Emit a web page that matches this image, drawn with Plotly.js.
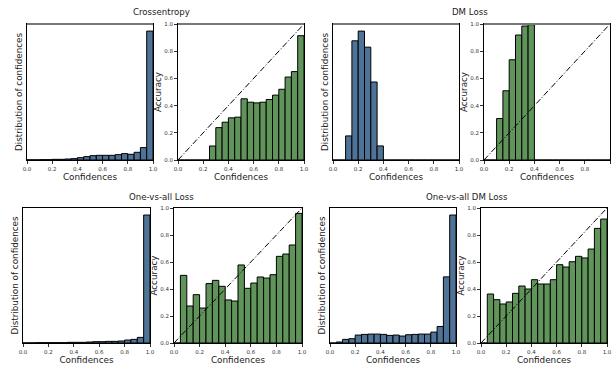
<!DOCTYPE html>
<html><head><meta charset="utf-8">
<script src="https://cdn.plot.ly/plotly-3.0.1.min.js"></script>
<style>html,body{margin:0;padding:0;background:#fff}#chart{width:613px;height:366px}</style>
</head><body><div id="chart"></div>
<script>
// ---- data ----
const binCenters = [0.025,0.075,0.125,0.175,0.225,0.275,0.325,0.375,0.425,0.475,
                    0.525,0.575,0.625,0.675,0.725,0.775,0.825,0.875,0.925,0.975];
const tickVals = [0.0,0.2,0.4,0.6,0.8,1.0];
const tickText = ["0.0","0.2","0.4","0.6","0.8","1.0"];
const diagX = [0, 1];
const diagY = [0, 1];
const panelTitles = ["Crossentropy","DM Loss","One-vs-all Loss","One-vs-all DM Loss"];

// distribution of confidences (% of samples per bin)
const ceHist   = [0.09,0.09,0.17,0.17,0.34,0.34,0.51,0.69,1.2,1.72,2.23,2.4,2.4,2.4,2.74,3.26,2.92,3.95,6.35,66.04];
const dmHist   = [0,0,5.05,24.98,27.02,23.65,16.35,2.95,0,0,0,0,0,0,0,0,0,0,0,0];
const ovaHist  = [0.06,0.11,0.22,0.22,0.22,0.22,0.22,0.43,0.43,0.43,0.65,0.86,0.86,1.08,1.08,1.3,1.94,2.38,3.67,83.62];
const ovadmHist= [0,0.3,1.1,1.3,2.4,2.6,2.7,2.7,2.6,2.3,2.4,2.1,2.5,2.6,2.7,2.7,3.3,5.0,20.0,38.7];

// accuracy per bin
const ceAcc    = [0,0,0,0,0,0.103,0.238,0.278,0.31,0.315,0.45,0.425,0.42,0.425,0.445,0.477,0.52,0.61,0.65,0.914];
const dmAcc    = [0,0,0.305,0.509,0.737,0.919,0.985,0.995,0,0,0,0,0,0,0,0,0,0,0,0];
const ovaAcc   = [0,0.501,0.274,0.358,0.259,0.44,0.464,0.42,0.319,0.311,0.578,0.405,0.444,0.489,0.481,0.506,0.642,0.659,0.726,0.96];
const ovadmAcc = [0,0.363,0.321,0.289,0.304,0.368,0.422,0.40,0.469,0.437,0.437,0.469,0.58,0.563,0.602,0.642,0.63,0.696,0.849,0.918];

const histSets = [ceHist, dmHist, ovaHist, ovadmHist];
const accSets  = [ceAcc, dmAcc, ovaAcc, ovadmAcc];

// ---- layout helpers ----
const W = 613, H = 366;
const px = (a,b) => [a/W, b/W];
const py = (top,bot) => [(H-bot)/H, (H-top)/H];
const xDom = [px(27,153), px(178,304), px(333,459), px(484,610),
              px(23,150), px(174,302), px(330,456), px(481,607)];
const yDom = [py(24,160), py(24,160), py(24,160), py(24,160),
              py(208,343), py(208,343), py(208,343), py(208,343)];
const titlePos = [[161,12],[470,12],[161,197],[467,197]];

const FONT = "DejaVu Sans";
const TXT = "#1a1a1a";
const histColor = "#4f7396";
const accColor = "#60945a";

const traces = [];
const layout = {
  width: W, height: H,
  margin: {l:0, r:0, t:0, b:0},
  paper_bgcolor: "#fff", plot_bgcolor: "#fff",
  showlegend: false,
  font: {family: FONT, color: TXT, weight: "normal"},
  bargap: 0,
  annotations: [],
  shapes: []
};

for (let p = 0; p < 8; p++) {
  const isAcc = p % 2 === 1;
  const gi = Math.floor(p/2);
  const xa = p === 0 ? "x" : "x" + (p+1);
  const ya = p === 0 ? "y" : "y" + (p+1);
  const vals = isAcc ? accSets[gi] : histSets[gi];
  traces.push({
    type: "bar", x: binCenters, y: vals, width: 0.05,
    xaxis: xa, yaxis: ya,
    marker: {color: isAcc ? accColor : histColor, line: {color: "#000", width: 1}},
    hoverinfo: "skip"
  });
  if (isAcc) {
    traces.push({
      type: "scatter", mode: "lines", x: diagX, y: diagY,
      xaxis: xa, yaxis: ya,
      line: {color: "#000", width: 1, dash: "6px,2px,1px,2px"}, hoverinfo: "skip"
    });
  }
  const xKey = p === 0 ? "xaxis" : "xaxis" + (p+1);
  const yKey = p === 0 ? "yaxis" : "yaxis" + (p+1);
  const ymax = isAcc ? 1 : Math.max(...vals) * 1.055;
  layout[xKey] = {
    domain: xDom[p], anchor: ya, range: [0,1], fixedrange: true,
    showgrid: false, zeroline: false,
    showline: true, mirror: true, linecolor: "#000", linewidth: 1,
    ticks: "outside", ticklen: 3, tickwidth: 0.8, tickcolor: "#000",
    tickvals: tickVals, ticktext: tickText,
    tickfont: {size: 5.5, family: FONT, color: "#333"},
    title: {text: "Confidences", font: {size: 8.8, family: FONT, weight: "normal", color: TXT}, standoff: 1},
    automargin: false
  };
  layout[yKey] = {
    domain: yDom[p], anchor: xa, range: [0, ymax], fixedrange: true,
    showgrid: false, zeroline: false,
    showline: true, mirror: true, linecolor: "#000", linewidth: 1,
    ticks: isAcc ? "outside" : "", ticklen: 3, tickwidth: 0.8, tickcolor: "#000",
    showticklabels: isAcc,
    tickvals: isAcc ? tickVals : undefined, ticktext: isAcc ? tickText : undefined,
    tickfont: {size: 5.5, family: FONT, color: "#333"},
    title: {text: isAcc ? "Accuracy" : "Distribution of confidences",
            font: {size: 8.8, family: FONT, weight: "normal", color: TXT}, standoff: 1},
    automargin: false
  };
  if (p < 4) {
    layout.shapes.push({
      type: "line", xref: "paper", yref: "paper",
      x0: xDom[p][0], x1: xDom[p][1], y0: yDom[p][1], y1: yDom[p][1],
      line: {color: "#777", width: 2}
    });
  }
}

for (let g = 0; g < 4; g++) {
  layout.annotations.push({
    text: panelTitles[g], xref: "paper", yref: "paper",
    x: titlePos[g][0]/W, y: (H - titlePos[g][1])/H,
    xanchor: "center", yanchor: "middle", showarrow: false,
    font: {size: 8.6, family: FONT, color: TXT, weight: "normal"}
  });
}

Plotly.newPlot("chart", traces, layout, {staticPlot: true, displayModeBar: false});
</script></body></html>
